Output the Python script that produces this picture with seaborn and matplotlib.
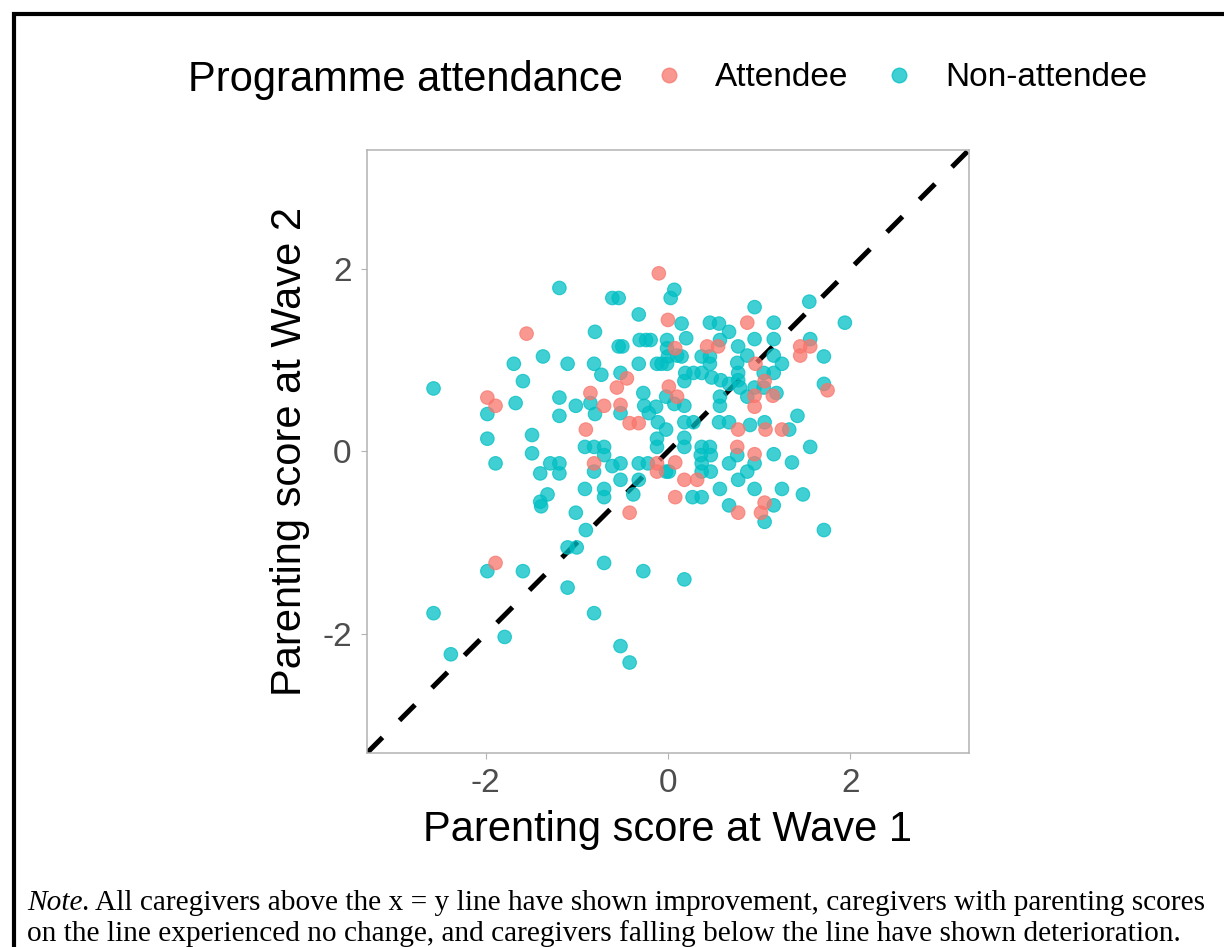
import matplotlib
matplotlib.use("Agg")
import matplotlib.pyplot as plt
from matplotlib.lines import Line2D
import pandas as pd
import seaborn as sns

# Parenting scores (standardised) at Wave 1 and Wave 2
non_w1 = [-2.57, -2.57, -2.38, -1.98, -1.98, -1.89, -1.98, -1.79, -1.69, -1.59,
          -1.67, -1.37, -1.49, -1.49, -1.59, -1.40, -1.32, -1.40, -1.39, -1.29,
          -1.19, -1.19, -1.19, -1.19, -1.19, -1.10, -1.10, -1.10, -1.00, -1.01,
          -1.01, -0.91, -0.81, -0.70, -0.70, -0.81, -0.61, -0.52, -0.32, -0.22,
          -0.02, -0.91, -0.70, -0.70, -0.52, -0.32, -0.38, -0.90, -0.81, -0.70,
          -0.27, -0.52, -0.42, 0.18, -0.80, -0.61, -0.54, 0.03, 0.07, -0.32,
          0.15, -0.31, -0.24, -0.19, -0.01, -0.01, -0.54, -0.50, -0.81, -0.32,
          -0.12, -0.07, -0.01, -0.73, -0.52, -0.27, -0.02, -0.80, -0.85, -0.52,
          -0.26, -0.13, -0.21, -0.11, -0.02, -0.12, -0.12, 0.00, 0.10, 0.15,
          0.20, 0.37, 0.46, 0.46, 0.56, 0.67, 0.77, 0.57, 0.19, 0.28,
          0.37, 0.18, 0.46, 0.48, 0.58, 0.67, 0.77, 0.77, 0.79, 0.76,
          0.87, 0.95, 0.95, 1.16, 1.16, 1.05, 1.16, 1.16, 1.25, 0.95,
          1.05, 1.19, 0.87, 0.57, 0.57, 0.07, 0.18, 1.55, 1.94, 1.56,
          1.71, 1.71, 1.42, 0.18, 0.28, 0.56, 0.67, 0.90, 1.06, 1.33,
          0.18, 0.18, 0.37, 0.46, 0.36, 0.76, 1.16, 1.36, 1.56, 0.01,
          0.37, 0.47, 0.37, 0.47, 0.67, 0.95, 0.87, 0.27, 0.37, 0.57,
          0.77, 0.95, 1.25, 1.48, 0.67, 1.16, 1.06, 1.71]
non_w2 = [0.69, -1.77, -2.22, 0.41, 0.14, -0.13, -1.31, -2.03, 0.96, 0.77,
          0.53, 1.04, 0.18, -0.02, -1.31, -0.24, -0.47, -0.55, -0.60, -0.13,
          -0.13, -0.24, 1.79, 0.59, 0.39, 0.96, -1.05, -1.49, -1.05, -0.67,
          0.50, 0.05, 0.05, 0.05, -0.04, -0.22, -0.16, -0.13, -0.13, -0.13,
          -0.22, -0.41, -0.41, -0.50, -0.31, -0.31, -0.47, -0.86, -1.77, -1.22,
          -1.31, -2.13, -2.31, -1.40, 1.31, 1.68, 1.68, 1.68, 1.77, 1.50,
          1.40, 1.22, 1.22, 1.22, 1.22, 1.13, 1.15, 1.15, 0.96, 0.96,
          0.96, 0.96, 0.96, 0.84, 0.86, 0.64, 0.60, 0.41, 0.53, 0.42,
          0.50, 0.49, 0.42, 0.32, 0.24, 0.14, 0.05, 1.04, 1.05, 1.04,
          1.24, 1.04, 1.04, 1.41, 1.40, 1.31, 1.15, 1.22, 0.86, 0.86,
          0.86, 0.77, 0.96, 0.81, 0.78, 0.74, 0.86, 0.78, 0.70, 0.97,
          1.05, 1.23, 1.58, 1.41, 1.23, 0.86, 0.86, 1.05, 0.96, 0.70,
          0.70, 0.64, 0.60, 0.60, 0.50, 0.52, 0.50, 1.64, 1.41, 1.23,
          1.04, 0.74, 0.39, 0.32, 0.32, 0.32, 0.32, 0.29, 0.32, 0.24,
          0.15, 0.05, 0.05, 0.05, -0.04, -0.04, -0.03, -0.12, 0.05, -0.22,
          -0.13, -0.04, -0.22, -0.22, -0.13, -0.13, -0.22, -0.50, -0.50, -0.41,
          -0.31, -0.41, -0.41, -0.47, -0.59, -0.59, -0.77, -0.86]

att_w1 = [-1.98, -1.89, -1.89, -1.55, -0.81, -0.12, -0.12, -0.42, -0.10, 0.00,
          0.08, -0.45, -0.56, -0.85, -0.70, -0.52, -0.42, -0.32, -0.90, 0.01,
          0.10, 0.43, 0.55, 0.87, 0.96, 1.06, 0.95, 1.15, 0.95, 1.45,
          1.56, 1.45, 1.75, 0.77, 1.07, 1.25, 0.76, 0.95, 0.08, 0.18,
          0.32, 0.08, 0.77, 1.06, 1.02]
att_w2 = [0.59, 0.50, -1.22, 1.29, -0.13, -0.13, -0.22, -0.67, 1.95, 1.44,
          1.13, 0.80, 0.70, 0.64, 0.50, 0.51, 0.31, 0.31, 0.24, 0.71,
          0.60, 1.15, 1.15, 1.41, 0.96, 0.77, 0.61, 0.61, 0.49, 1.15,
          1.15, 1.05, 0.67, 0.24, 0.24, 0.24, 0.05, -0.03, -0.12, -0.31,
          -0.31, -0.50, -0.67, -0.56, -0.67]

groups = ["Attendee", "Non-attendee"]
colours = ["#F8766D", "#00BFC4"]
ticks = [-2, 0, 2]
tick_labels = ["-2", "0", "2"]

df = pd.concat([
    pd.DataFrame({"w1": non_w1, "w2": non_w2, "group": groups[1]}),
    pd.DataFrame({"w1": att_w1, "w2": att_w2, "group": groups[0]}),
], ignore_index=True)

sns.set_style("white")
plt.rcParams["font.family"] = ["Liberation Sans", "DejaVu Sans"]
plt.rcParams["text.color"] = "black"
plt.rcParams["axes.labelcolor"] = "black"

fig = plt.figure(figsize=(12.24, 9.47), dpi=100)
ax = fig.add_axes([0.2998, 0.2049, 0.4918, 0.6367])

ax.axline((0, 0), slope=1, color="black", lw=3.6, dashes=(4.4, 4.8), zorder=1)

palette = dict(zip(groups, colours))
sns.scatterplot(data=df, x="w1", y="w2", hue="group", palette=palette,
                hue_order=groups, s=95, alpha=0.75, linewidth=0.8,
                edgecolor="face", legend=False, ax=ax, zorder=2)

ax.set_xlim(-3.3, 3.3)
ax.set_ylim(-3.3, 3.3)
ax.set_xticks(ticks)
ax.set_xticklabels(tick_labels)
ax.set_yticks(ticks)
ax.set_yticklabels(tick_labels)
ax.tick_params(axis="both", labelsize=24, labelcolor="#4D4D4D", color="#B3B3B3",
               length=4, width=0.8, pad=7, bottom=True, left=True)
for sp in ax.spines.values():
    sp.set_color("#B3B3B3")
    sp.set_linewidth(1.1)

ax.set_xlabel("Parenting score at Wave 1", fontsize=30, color="black", labelpad=8)
ax.set_ylabel("Parenting score at Wave 2", fontsize=30, color="black", labelpad=9)

# Legend laid out in a single row with its title on the left
fig.text(188 / 1224, 1 - 80 / 947, "Programme attendance", fontsize=30,
         color="black", ha="left", va="center")
handles = [Line2D([], [], marker="o", linestyle="", markersize=10.5,
                  markerfacecolor=c, markeredgecolor=c, alpha=0.75)
           for c in colours]
fig.legend(handles, groups, loc="center left", ncol=2, frameon=False,
           bbox_to_anchor=(652 / 1224, 1 - 78 / 947), fontsize=24,
           labelcolor="black", handlelength=1.0, handletextpad=0.9,
           columnspacing=1.0, borderpad=0, borderaxespad=0)

# Outer frame lines
fig.add_artist(Line2D([12 / 1224, 1], [1 - 14 / 947] * 2,
                      transform=fig.transFigure, color="black", lw=3,
                      solid_capstyle="butt"))
fig.add_artist(Line2D([14 / 1224] * 2, [0, 1 - 12 / 947],
                      transform=fig.transFigure, color="black", lw=3,
                      solid_capstyle="butt"))

# Note beneath the chart
serif = ["Liberation Serif", "DejaVu Serif"]
note_size = 21.2
note_x = 27 / 1224
t1 = fig.text(note_x, 1 - 903 / 947, "Note", fontsize=note_size, family=serif,
              style="italic", color="black", ha="left", va="center")
fig.canvas.draw()
bb = t1.get_window_extent(fig.canvas.get_renderer())
fig.text(bb.x1 / fig.bbox.width, 1 - 903 / 947,
         ". All caregivers above the x = y line have shown improvement, "
         "caregivers with parenting scores",
         fontsize=note_size, family=serif, color="black", ha="left", va="center")
fig.text(note_x, 1 - 934 / 947,
         "on the line experienced no change, and caregivers falling below "
         "the line have shown deterioration.",
         fontsize=note_size, family=serif, color="black", ha="left", va="center")

fig.savefig("out.png", dpi=100)
